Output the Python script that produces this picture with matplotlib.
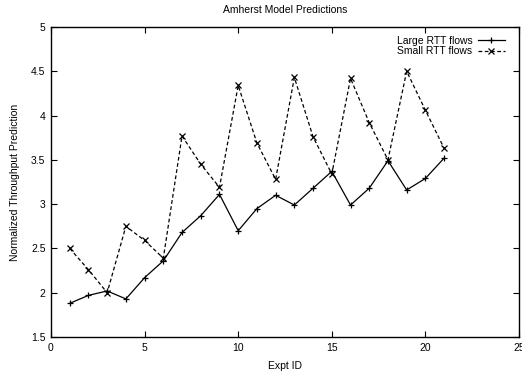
import matplotlib
matplotlib.use("Agg")
import matplotlib.pyplot as plt

expt_ids = list(range(1, 22))
large_rtt = [1.88, 1.97, 2.02, 1.93, 2.17, 2.36, 2.68, 2.87, 3.11, 2.70, 2.95,
             3.10, 2.99, 3.18, 3.37, 2.99, 3.18, 3.49, 3.16, 3.29, 3.52]
small_rtt = [2.50, 2.26, 2.00, 2.75, 2.59, 2.39, 3.77, 3.45, 3.19, 4.34, 3.69,
             3.28, 4.43, 3.76, 3.34, 4.42, 3.92, 3.50, 4.50, 4.06, 3.63]

plt.rcParams['font.family'] = ['Liberation Sans', 'DejaVu Sans']
plt.rcParams['font.size'] = 7.5

fig = plt.figure(figsize=(5.22, 3.73), dpi=100)
ax = fig.add_axes([51 / 522, 1 - 337 / 373, 468 / 522, 310 / 373])

ax.plot(expt_ids, large_rtt, color='black', linewidth=0.9, marker='+',
        markersize=5, markeredgewidth=0.9, label='Large RTT flows')
ax.plot(expt_ids, small_rtt, color='black', linewidth=0.9, linestyle=(0, (3, 2)),
        marker='x', markersize=4.2, markeredgewidth=0.9, label='Small RTT flows')

ax.set_xlim(0, 25)
ax.set_ylim(1.5, 5)
ax.set_xticks([0, 5, 10, 15, 20, 25])
ax.set_yticks([1.5, 2, 2.5, 3, 3.5, 4, 4.5, 5])
ax.set_yticklabels(['1.5', '2', '2.5', '3', '3.5', '4', '4.5', '5'])
ax.tick_params(direction='in', top=True, right=True, length=4, width=0.8, pad=4)
for s in ax.spines.values():
    s.set_linewidth(1.0)

ax.set_xlabel('Expt ID', labelpad=6)
ax.set_ylabel('Normalized Throughput Prediction', labelpad=8)
ax.set_title('Amherst Model Predictions', fontsize=7.5, pad=10)

ax.legend(loc='upper right', bbox_to_anchor=(0.985, 0.995), frameon=False,
          markerfirst=False, handlelength=2.6, handletextpad=0.5,
          labelspacing=0.05, borderaxespad=0.3, fontsize=7.5)

fig.savefig('out.png', dpi=100)
